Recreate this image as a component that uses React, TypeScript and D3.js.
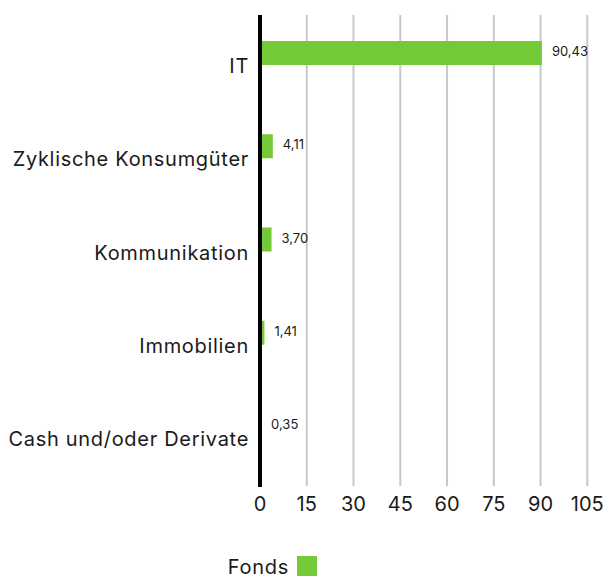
import React, { useEffect, useRef } from "react"
import * as d3 from "d3"

const categories = ["IT", "Zyklische Konsumgüter", "Kommunikation", "Immobilien", "Cash und/oder Derivate"]
const fondsValues = [90.43, 4.11, 3.7, 1.41, 0.35]
const valueLabels = ["90,43", "4,11", "3,70", "1,41", "0,35"]
const xTicks = [0, 15, 30, 45, 60, 75, 90, 105]
const seriesName = "Fonds"

const WIDTH = 606
const HEIGHT = 576
const GREEN = "#74c936"
const FONT = "Inter, 'Noto Sans', sans-serif"

export default function App() {
    const ref = useRef<SVGSVGElement>(null)

    useEffect(() => {
        const svg = d3.select(ref.current)
        svg.selectAll("*").remove()

        const x = d3.scaleLinear().domain([0, 105]).range([260, 587.3])
        const y = d3.scalePoint<string>().domain(categories).range([53, 426])
        const barHeight = 24
        const gridTop = 15
        const gridBottom = 486

        // grid lines
        svg.append("g")
            .selectAll("line")
            .data(xTicks.slice(1))
            .join("line")
            .attr("x1", d => x(d))
            .attr("x2", d => x(d))
            .attr("y1", gridTop)
            .attr("y2", gridBottom)
            .attr("stroke", "#c8c8c8")
            .attr("stroke-width", 2)

        // bars
        svg.append("g")
            .selectAll("rect")
            .data(fondsValues)
            .join("rect")
            .attr("x", x(0))
            .attr("y", (d, i) => y(categories[i])! - barHeight / 2)
            .attr("width", d => x(d) - x(0))
            .attr("height", barHeight)
            .attr("fill", GREEN)

        // value labels
        svg.append("g")
            .selectAll("text")
            .data(fondsValues)
            .join("text")
            .attr("x", d => x(d) + 10)
            .attr("y", (d, i) => y(categories[i])! + 3)
            .attr("font-family", FONT)
            .attr("font-size", 13)
            .attr("fill", "#1a1a1a")
            .text((d, i) => valueLabels[i])

        // category labels
        svg.append("g")
            .selectAll("text")
            .data(categories)
            .join("text")
            .attr("x", 249)
            .attr("y", d => y(d)! + 20)
            .attr("text-anchor", "end")
            .attr("font-family", FONT)
            .attr("font-size", 20)
            .attr("letter-spacing", 0.7)
            .attr("fill", "#1a1a1a")
            .text(d => d)

        // y axis line
        svg.append("line")
            .attr("x1", x(0))
            .attr("x2", x(0))
            .attr("y1", gridTop)
            .attr("y2", gridBottom + 1)
            .attr("stroke", "#000")
            .attr("stroke-width", 4)

        // x tick labels
        svg.append("g")
            .selectAll("text")
            .data(xTicks)
            .join("text")
            .attr("x", d => x(d))
            .attr("y", 511)
            .attr("text-anchor", "middle")
            .attr("font-family", FONT)
            .attr("font-size", 20)
            .attr("fill", "#1a1a1a")
            .text(d => d)

        // legend
        const legend = svg.append("g")
        legend.append("text")
            .attr("x", 289)
            .attr("y", 574)
            .attr("text-anchor", "end")
            .attr("font-family", FONT)
            .attr("font-size", 20)
            .attr("letter-spacing", 0.7)
            .attr("fill", "#1a1a1a")
            .text(seriesName)
        legend.append("rect")
            .attr("x", 297)
            .attr("y", 556)
            .attr("width", 20)
            .attr("height", 20)
            .attr("fill", GREEN)
    }, [])

    return (
        <svg
            ref={ref}
            width={WIDTH}
            height={HEIGHT}
            style={{ position: "absolute", left: 0, top: 0 }}
        />
    )
}
